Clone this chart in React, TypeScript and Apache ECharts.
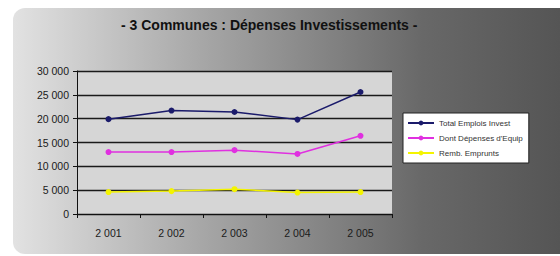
import React, { useEffect, useRef } from "react";
import * as echarts from "echarts";

const categories = ["2 001", "2 002", "2 003", "2 004", "2 005"];
const totalEmplois = [19900, 21700, 21400, 19800, 25600];
const depensesEquip = [13000, 13000, 13400, 12600, 16400];
const rembEmprunts = [4600, 4800, 5200, 4500, 4600];
const seriesNames = ["Total Emplois Invest", "Dont Dépenses d'Equip", "Remb. Emprunts"];
const yTicks = [0, 5000, 10000, 15000, 20000, 25000, 30000];

const fmt = (v: number) => {
  const s = String(Math.round(v));
  return s.replace(/\B(?=(\d{3})+(?!\d))/g, " ");
};

export default function App() {
  const ref = useRef<HTMLDivElement>(null);
  useEffect(() => {
    if (!ref.current) return;
    const chart = echarts.init(ref.current, undefined, { renderer: "svg" });
    const mk = (name: string, data: number[], color: string) => ({
      name,
      type: "line",
      data,
      symbol: "circle",
      symbolSize: 6,
      lineStyle: { color, width: 1.5 },
      itemStyle: { color },
    });
    chart.setOption({
      animation: false,
      backgroundColor: "#ffffff",
      textStyle: { fontFamily: "Liberation Sans, Arial, sans-serif" },
      graphic: [
        {
          type: "rect",
          z: -10,
          silent: true,
          shape: { x: 13, y: 8, width: 547, height: 246, r: [12, 0, 0, 12] },
          style: {
            fill: new echarts.graphic.LinearGradient(0, 0, 1, 0, [
              { offset: 0, color: "#e2e2e2" },
              { offset: 0.35, color: "#a6a6a6" },
              { offset: 0.75, color: "#686868" },
              { offset: 1, color: "#555555" },
            ]),
          },
        },
        {
          type: "text",
          left: 121,
          top: 18,
          style: {
            text: "- 3 Communes : Dépenses Investissements -",
            fill: "#111111",
            font: "bold 14px Liberation Sans, Arial, sans-serif",
          },
        },
      ],
      legend: {
        orient: "vertical",
        left: 403,
        top: 113,
        width: 152,
        height: 59,
        padding: [6, 6, 6, 4],
        itemGap: 7,
        itemWidth: 26,
        itemHeight: 6,
        backgroundColor: "#ffffff",
        borderColor: "#222222",
        borderWidth: 1,
        borderRadius: 0,
        textStyle: { fontSize: 8, color: "#333333" },
        data: seriesNames,
      },
      grid: {
        left: 77,
        top: 71,
        right: 168,
        bottom: 42,
        show: true,
        backgroundColor: "#d6d6d6",
        borderWidth: 0,
      },
      xAxis: {
        type: "category",
        data: categories,
        boundaryGap: true,
        axisLine: { show: true, lineStyle: { color: "#111111", width: 1 } },
        axisTick: { show: true, length: 4, inside: false, lineStyle: { color: "#111111" } },
        axisLabel: { color: "#1a1a1a", fontSize: 10.5, margin: 13 },
        splitLine: { show: false },
      },
      yAxis: {
        type: "value",
        min: 0,
        max: 30000,
        interval: 5000,
        axisLine: { show: true, lineStyle: { color: "#111111", width: 1 } },
        axisTick: { show: true, length: 4, lineStyle: { color: "#111111" } },
        axisLabel: {
          color: "#1a1a1a",
          fontSize: 10.5,
          margin: 8,
          formatter: (v: number) => (yTicks.includes(v) ? fmt(v) : ""),
        },
        splitLine: { show: true, lineStyle: { color: "#1a1a1a", width: 1.3 } },
      },
      series: [
        mk(seriesNames[0], totalEmplois, "#1b1b6b"),
        mk(seriesNames[1], depensesEquip, "#e030e0"),
        mk(seriesNames[2], rembEmprunts, "#f4f400"),
      ],
    });
    return () => chart.dispose();
  }, []);
  return (
    <div
      ref={ref}
      style={{ position: "fixed", left: 0, top: 0, width: 560, height: 256 }}
    />
  );
}
